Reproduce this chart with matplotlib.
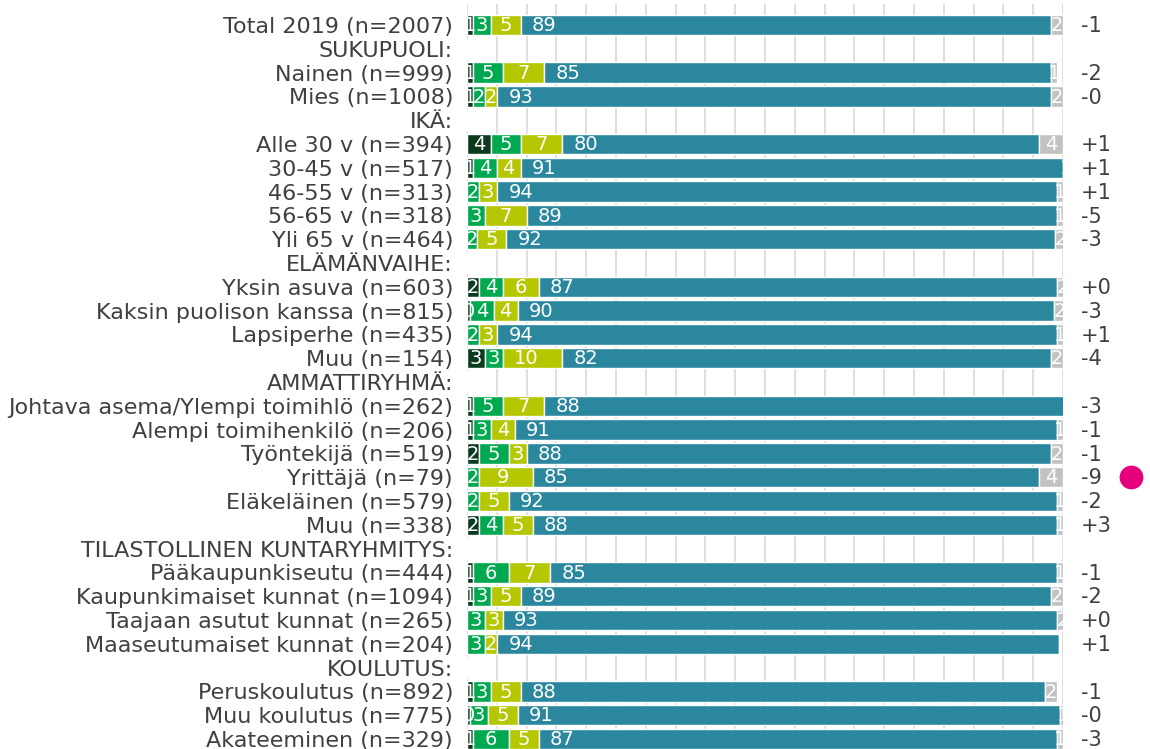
import numpy as np
import matplotlib.pyplot as plt
import matplotlib.transforms as mtransforms

labels = ['Total 2019 (n=2007)', 'SUKUPUOLI:', 'Nainen (n=999)', 'Mies (n=1008)',
          'IKÄ:', 'Alle 30 v (n=394)', '30-45 v (n=517)', '46-55 v (n=313)',
          '56-65 v (n=318)', 'Yli 65 v (n=464)', 'ELÄMÄNVAIHE:', 'Yksin asuva (n=603)',
          'Kaksin puolison kanssa (n=815)', 'Lapsiperhe (n=435)', 'Muu (n=154)',
          'AMMATTIRYHMÄ:', 'Johtava asema/Ylempi toimihlö (n=262)',
          'Alempi toimihenkilö (n=206)', 'Työntekijä (n=519)', 'Yrittäjä (n=79)',
          'Eläkeläinen (n=579)', 'Muu (n=338)', 'TILASTOLLINEN KUNTARYHMITYS:',
          'Pääkaupunkiseutu (n=444)', 'Kaupunkimaiset kunnat (n=1094)',
          'Taajaan asutut kunnat (n=265)', 'Maaseutumaiset kunnat (n=204)',
          'KOULUTUS:', 'Peruskoulutus (n=892)', 'Muu koulutus (n=775)',
          'Akateeminen (n=329)']

# header rows carry zeros
s1 = [1, 0, 1, 1, 0, 4, 1, 0, 0, 0, 0, 2, 0.5, 0, 3, 0, 1, 1, 2, 0, 0, 2, 0, 1, 1, 0, 0, 0, 1, 0.5, 1]
s2 = [3, 0, 5, 2, 0, 5, 4, 2, 3, 1.6, 0, 4, 4, 2, 3, 0, 5, 3, 5, 2, 2, 4, 0, 6, 3, 3, 3, 0, 3, 3, 6]
s3 = [5, 0, 7, 2, 0, 7, 4, 3, 7, 5, 0, 6, 4, 3, 10, 0, 7, 4, 3, 9, 5, 5, 0, 7, 5, 3, 2, 0, 5, 5, 5]
s4 = [89, 0, 85, 93, 0, 80, 91, 94, 89, 92, 0, 87, 90, 94, 82, 0, 88, 91, 88, 85, 92, 88, 0, 85, 89, 93, 94.4, 0, 88, 91, 87]
s5 = [2, 0, 1, 2, 0, 4, 1, 1, 1, 2, 0, 2, 2, 1, 2, 0, 0, 1, 2, 4, 1, 1, 0, 1, 2, 2, 0, 0, 2, 1, 1]
change = ['-1', '', '-2', '-0', '', '+1', '+1', '+1', '-5', '-3', '', '+0', '-3', '+1', '-4',
          '', '-3', '-1', '-1', '-9', '-2', '+3', '', '-1', '-2', '+0', '+1', '', '-1', '-0', '-3']
flagged = [19]

colors = ['#0b3b1f', '#00a94f', '#b4c700', '#2a879d', '#c2c2c2']
txt = '#404040'

fig = plt.figure(figsize=(11.5, 7.49), dpi=100)
ax = fig.add_axes([467 / 1150, 0, 596 / 1150, 745 / 749])
n = len(labels)
y = np.arange(n)

# grid every 5 %
for gx in np.arange(0, 101, 5):
    ax.axvline(gx, color='#d9d9d9', lw=1.2, zorder=0)

left = np.zeros(n)
for vals, c in zip([s1, s2, s3, s4, s5], colors):
    vals = np.array(vals, dtype=float)
    bars = ax.barh(y, vals, left=left, height=0.86, color=c, edgecolor='white', lw=1, zorder=2)
    for i, (b, v) in enumerate(zip(bars, vals)):
        if v <= 0:
            continue
        x = left[i] + min(v / 2, 4.0)
        t = ax.text(x, i + 0.03, f'{v:.0f}', ha='center', va='center', color='white',
                    fontsize=14, zorder=3)
        t.set_clip_path(b)  # labels of thin segments get cut like in the original
    left += vals

ax.set_xlim(0, 100)
ax.set_ylim(n - 1 + 10 / 23.8, -21 / 23.8)
ax.set_yticks(y)
ax.set_yticklabels(labels, fontsize=16, color=txt)
ax.tick_params(axis='y', length=0, pad=10)
ax.set_xticks([])
for sp in ax.spines.values():
    sp.set_visible(False)

tr = mtransforms.blended_transform_factory(ax.transAxes, ax.transData)
for i, ch in enumerate(change):
    if ch:
        ax.text(1.03, i + 0.05, ch, transform=tr, ha='left', va='center', fontsize=15, color=txt)
for i in flagged:
    ax.scatter([1.114], [i], transform=tr, s=260, color='#e6007e', clip_on=False, zorder=4)

fig.savefig('out.png', dpi=100)
